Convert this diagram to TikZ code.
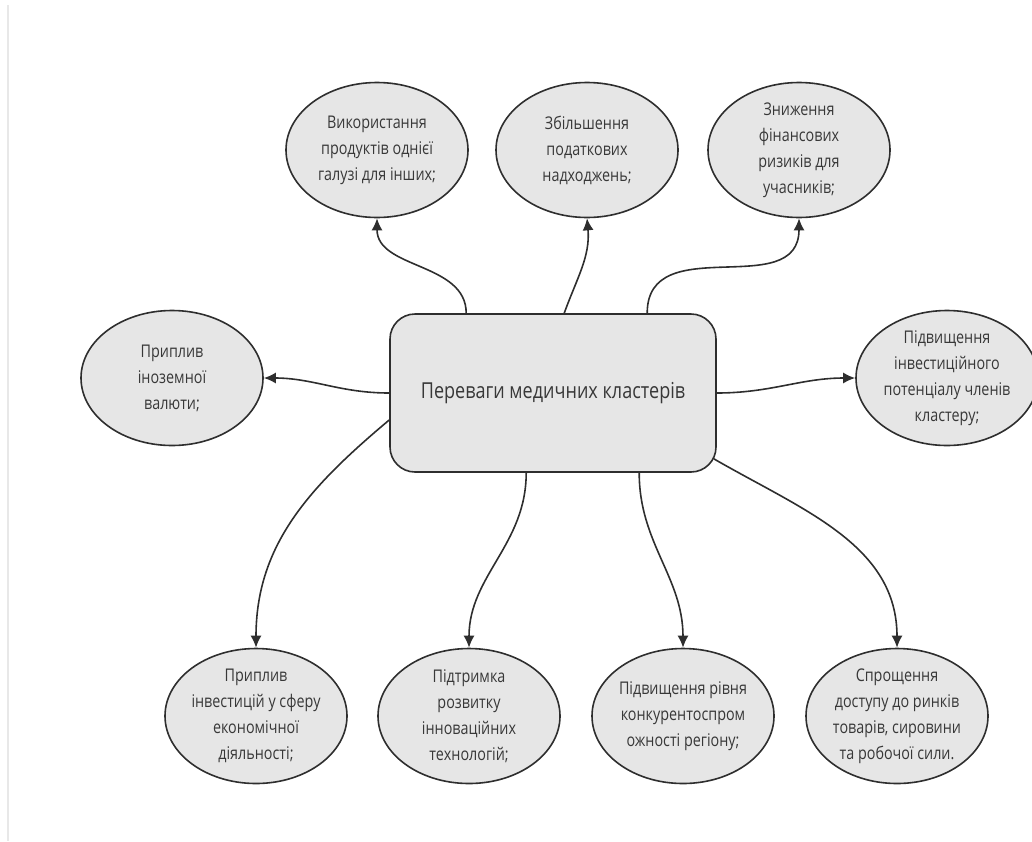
\documentclass[tikz,border=0pt]{standalone}
\usepackage{fontspec}
\setmainfont{Open Sans}[FakeStretch=0.82]
\usepackage{tikz}
\usetikzlibrary{shapes.geometric,arrows.meta}
\definecolor{fillgray}{HTML}{E6E6E6}
\definecolor{linegray}{HTML}{2E2E2E}
\definecolor{textgray}{HTML}{383838}
\tikzset{
	ell/.style={ellipse, draw=linegray, fill=fillgray, line width=1.6pt, minimum width=182pt, minimum height=135pt, inner sep=0pt},
	txt/.style={align=center, text=textgray, font=\fontsize{17.5}{26}\selectfont},
	arr/.style={-{Latex[length=12pt,width=11pt]}, line width=1.6pt, draw=linegray}
}

\begin{document}
\begin{tikzpicture}[x=1pt, y=-1pt]
			%%%%% START %%%%%
			
			\useasboundingbox (0, 0) rectangle (1032, 841);
			\draw[line width=1.5pt, color=black!9] (8, 5) -- (8, 841);
			
			\node[rounded corners=25pt, draw=linegray, fill=fillgray, line width=1.6pt, minimum width=326pt, minimum height=158pt, text=textgray, font=\fontsize{22}{26}\selectfont] (box) at (553, 393) {Переваги медичних кластерів};
			
			\node[ell, label={[txt]center:Використання\\продуктів однієї\\галузі для інших;}] (use) at (377, 150) {};
			\node[ell, label={[txt]center:Збільшення\\податкових\\надходжень;}] (tax) at (587, 150) {};
			\node[ell, label={[txt]center:Зниження\\фінансових\\ризиків для\\учасників;}] (risk) at (799, 150) {};
			
			\node[ell, label={[txt]center:Приплив\\іноземної\\валюти;}] (curr) at (172, 378) {};
			\node[ell, label={[txt]center:Підвищення\\інвестиційного\\потенціалу членів\\кластеру;}] (pot) at (947, 378) {};
			
			\node[ell, label={[txt]center:Приплив\\інвестицій у сферу\\економічної\\діяльності;}] (inv) at (256, 716) {};
			\node[ell, label={[txt]center:Підтримка\\розвитку\\інноваційних\\технологій;}] (tech) at (469, 716) {};
			\node[ell, label={[txt]center:Підвищення рівня\\конкурентоспром\\ожності регіону;}] (comp) at (683, 716) {};
			\node[ell, label={[txt]center:Спрощення\\доступу до ринків\\товарів, сировини\\та робочої сили.}] (mark) at (897, 716) {};
			
			% top
			\draw[arr] ([xshift=77pt]box.north west) to[out=90, in=-90] (use.south);
			\draw[arr] ([xshift=175pt]box.north west) to[out=70, in=-85] (tax.south);
			\draw[arr] ([xshift=258pt]box.north west) to[out=90, in=-90, looseness=1.2] (risk.south);
			
			% sides
			\draw[arr] (box.west) to[out=180, in=0] (curr.east);
			\draw[arr] (box.east) to[out=0, in=180] (pot.west);
			
			% bottom
			\draw[arr] ([yshift=-27pt]box.west) to[out=-140, in=90] (inv.north);
			\draw[arr] ([xshift=137pt]box.south west) to[out=-90, in=90] (tech.north);
			\draw[arr] ([xshift=250pt]box.south west) to[out=-90, in=90] (comp.north);
			\draw[arr] ([xshift=-3pt, yshift=14pt]box.south east) to[out=-30, in=90] (mark.north);
			
			%%%%% END %%%%%
\end{tikzpicture}
\end{document}
